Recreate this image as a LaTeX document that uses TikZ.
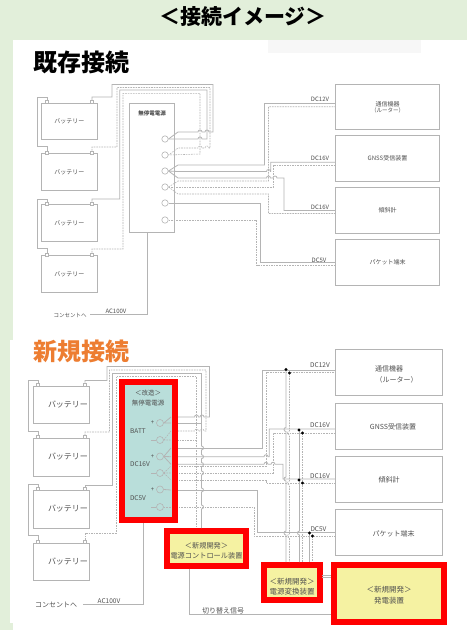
\documentclass[tikz,border=0pt]{standalone}
\usepackage{fontspec}
\setmainfont{Noto Sans CJK JP}
\usepackage{xcolor}
\definecolor{pagegreen}{HTML}{E2EFDA}
\definecolor{wiregray}{HTML}{B4B4B4}
\definecolor{labelgray}{HTML}{505050}
\definecolor{upsteal}{HTML}{B9DEDA}
\definecolor{newyellow}{HTML}{F5F2A2}
\definecolor{titleorange}{HTML}{ED7D31}
\newcommand{\hop}[2]{-- (#1-2,#2) arc (180:360:2)}
\newcommand{\lhop}[2]{-- (#1+2,#2) arc (360:180:2)}
\newcommand{\vhop}[2]{-- (#1,#2-2) arc (270:90:2)}
\newcommand{\rhop}[2]{-- (#1,#2-2) arc (-90:90:2)}

\begin{document}
\begin{tikzpicture}[x=1pt, y=-1pt,
    wire/.style={draw=wiregray, line width=.8pt},
    dwire/.style={draw=wiregray, line width=.55pt, dash pattern=on 1.6pt off 1pt},
    box/.style={draw=wiregray, line width=.8pt, fill=white, inner sep=0pt, text=labelgray},
    term/.style={draw=wiregray, line width=.5pt, fill=white, inner sep=0pt, minimum width=2.6pt, minimum height=3pt},
    port/.style={circle, draw=wiregray, line width=.6pt, inner sep=0pt},
    lab/.style={text=labelgray, inner sep=0pt},
    newbox/.style={draw=red, line width=6pt, fill=newyellow, inner sep=0pt, text=labelgray, align=center},
    dot/.style={circle, fill=black, inner sep=0pt, minimum size=3.4pt},
    title/.style={font=\bfseries\fontsize{24}{24}\selectfont, inner sep=0pt}]
  \useasboundingbox (0,0) rectangle (467,630);
  \fill[pagegreen] (0,0) rectangle (467,630);
  \fill[white] (13,40) rectangle (467,630);
  \fill[white] (10,340) rectangle (14,623);
  \fill[black!3] (268,40) rectangle (421,53);

  \node[title, font=\bfseries\fontsize{21}{21}\selectfont] (head) at (243,17) {＜接続イメージ＞};
  \node[title, anchor=west] (oldhead) at (33,62) {既存接続};
  \node[title, anchor=west, text=titleorange] (newhead) at (33,351) {新規接続};

  % existing connection
  \foreach \n/\y in {1/121.25, 2/172, 3/223, 4/274} {
    \node[box, minimum width=55.5pt, minimum height=36.5pt, font=\fontsize{6}{6}\selectfont] (batt\n) at (69.25,\y) {バッテリー};
    \node[term] (b\n l) at (47,\y-19.7) {};
    \node[term] (b\n r) at (92,\y-19.7) {};
  }
  \node[box, minimum width=45pt, minimum height=129.5pt] (ups) at (152,167.75) {};
  \node[lab, font=\bfseries\fontsize{5.5}{5.5}\selectfont] (upstext) at (152,113) {無停電電源};
  \foreach \n/\y in {1/139, 2/155, 3/171, 4/187, 5/203, 6/220}
    \node[port, minimum size=6.4pt] (up\n) at (165,\y) {};

  \foreach \n/\y/\t in {1/106.75/{通信機器\\[-1pt]{\fontsize{5.5}{5.5}\selectfont （ルーター）}}, 2/158.5/GNSS受信装置, 3/210.5/傾斜計, 4/262.25/パケット端末}
    \node[box, minimum width=104pt, minimum height=45.5pt, align=center, font=\fontsize{6}{7}\selectfont] (dev\n) at (387.5,\y) {\t};

  \draw[wire] (b1l.north) |- (37,97) -- (37,146) -| (b2l.north);
  \draw[wire] (b3l.north) |- (37,199) -- (37,248) -| (b4l.north);
  \draw[wire] (b1r.north) |- (112,97) |- (213,84.5) -- (213,132) \lhop{207}{132} \lhop{200}{132} -- (178,132) -- (up1.east);
  \draw[dwire] (b2r.north) |- (117,147) |- (210,87.5) -- (210,148) \lhop{207}{148} \lhop{200}{148} -- (178,148) -- (up2.east);
  \draw[wire] (b3r.north) |- (119.7,199) |- (207,90) -- (207,139) \lhop{200}{139} -- (up1.east);
  \draw[dwire] (b4r.north) |- (123,249) |- (200,93.3) -- (200,154) -- (up2.east);

  \draw[wire] (up3.east) -- (178,165) -- (264.5,165) |- ([yshift=3.25pt]dev1.west);
  \draw[dwire] (up4.east) -- (178,181) -- (268.5,181) |- (dev1.west);
  \draw[wire] (up3.east) -- (178,171.5) \hop{268.5}{171.5} -- (270.7,171.5) |- ([yshift=-3.8pt]dev2.west);
  \draw[dwire] (up4.east) -- (178,187) -- (273.3,187) |- ([yshift=-6.5pt]dev2.west);
  \draw[wire] (up3.east) -- (178,178) \hop{268.5}{178} \hop{275}{178} -- (284,178) |- (dev3.west);
  \draw[dwire] (up4.east) -- (178,194) -- (268.5,194) |- ([yshift=-3pt]dev3.west);
  \draw[wire] (up5.east) -- (260.5,203) |- (dev4.west);
  \draw[dwire] (up6.east) -- (256.5,220) |- ([yshift=-3.25pt]dev4.west);

  \coordinate (plug) at (90,314);
  \draw[wire] (plug) -| (ups.south -| 147,0);
  \node[lab, font=\fontsize{5.5}{6}\selectfont] (plugtext) at (70,315) {コンセントへ};
  \node[lab, font=\fontsize{6}{6}\selectfont] (actext) at (116,311) {AC100V};
  \node[lab, font=\fontsize{6}{6}\selectfont] (v1) at (320,99) {DC12V};
  \node[lab, font=\fontsize{6}{6}\selectfont] (v2) at (320,158) {DC16V};
  \node[lab, font=\fontsize{6}{6}\selectfont] (v3) at (320,207.5) {DC16V};
  \node[lab, font=\fontsize{6}{6}\selectfont] (v4) at (319,260) {DC5V};

  % new connection
  \foreach \n/\y in {1/404.75, 2/457.5, 3/509.5, 4/562} {
    \node[box, minimum width=56.5pt, minimum height=37.5pt] (nbatt\n) at (61.25,\y) {};
    \node[lab, font=\fontsize{8}{8}\selectfont] (nbtext\n) at (68,\y-0.5) {バッテリー};
    \node[term] (nb\n l) at (38,\y-20.5) {};
    \node[term] (nb\n r) at (85,\y-20.5) {};
  }
  \foreach \n/\y in {1/372.5, 2/426, 3/479.25, 4/532.75}
    \node[box, minimum width=107pt, minimum height=46pt] (ndev\n) at (389,\y) {};
  \node[lab, font=\fontsize{7}{8}\selectfont] (nd1a) at (389,369) {通信機器};
  \node[lab, font=\fontsize{7}{8}\selectfont] (nd1b) at (396.5,379.5) {（ルーター）};
  \node[lab, font=\fontsize{7}{8}\selectfont] (nd2) at (393,427) {GNSS受信装置};
  \node[lab, font=\fontsize{7}{8}\selectfont] (nd3) at (389,480) {傾斜計};
  \node[lab, font=\fontsize{7}{8}\selectfont] (nd4) at (393.5,533.5) {パケット端末};

  \node[newbox, minimum width=79pt, minimum height=35pt] (ctrl) at (206.5,548.5) {};
  \node[newbox, minimum width=55.5pt, minimum height=35pt] (conv) at (292,582.2) {};
  \node[newbox, minimum width=109.5pt, minimum height=56.7pt] (gen) at (389,593.3) {};

  \draw[wire] (nb1l.north) |- (28,380) -- (28,431) -| (nb2l.north);
  \draw[wire] (nb3l.north) |- (28,484) -- (28,535) -| (nb4l.north);
  \draw[wire] (nb1r.north) |- (107,380.5) |- (209.5,366.5) -- (209.5,417) \lhop{202}{417} \lhop{196.5}{417} -- (171,417);
  \draw[dwire] (nb2r.north) |- (109.5,432) |- (206,370) -- (206,431) \lhop{202}{431} \lhop{196.5}{431} -- (171,431);
  \draw[wire] (nb3r.north) |- (112,485) |- (201.5,373) -- (201.5,423) -- (171,423);
  \draw[dwire] (nb4r.north) |- (116,533) |- (196.5,376.5) -- (196.5,440) -- (171,440);

  % bus to the control box
  \draw[wire] (201.5,423) \rhop{201.5}{448} \rhop{201.5}{456.7} \rhop{201.5}{464.5} \rhop{201.5}{473} \rhop{201.5}{490} \rhop{201.5}{507} -- (201.5,528);
  \draw[dwire] (196.5,440) -- (196.5,528);

  \draw[wire] (171,448) -- (262.7,448) |- ([yshift=2.5pt]ndev1.west);
  \draw[dwire] (171,466) -- (266,466) |- (ndev1.west);
  \draw[wire] (171,456.7) \hop{266}{456.7} -- (269.3,456.7) |- ([yshift=-3pt]ndev2.west);
  \draw[dwire] (171,473) -- (273,473) |- ([yshift=-7pt]ndev2.west);
  \draw[wire] (171,464.3) \hop{266}{464.3} \hop{273}{464.3} -- (283,464.3) |- ([yshift=.25pt]ndev3.west);
  \draw[dwire] (171,480) -- (266,480) |- ([yshift=-3.75pt]ndev3.west);
  \draw[wire] (171,490) -- (257.5,490) |- (ndev4.west);
  \draw[dwire] (171,507) -- (254,507) |- ([yshift=-3.25pt]ndev4.west);

  \coordinate (t1) at (286,369.5);
  \coordinate (t2) at (289.5,373);
  \coordinate (t3) at (299.5,429.5);
  \coordinate (t4) at (302.5,433);
  \coordinate (t5) at (309.5,533);
  \coordinate (t6) at (312.5,536);
  \draw[wire] (t1) \vhop{286}{429.5} \vhop{286}{479} \vhop{286}{533} -- (286,562);
  \draw[dwire] (t2) \vhop{289.5}{433} \vhop{289.5}{483} \vhop{289.5}{536} -- (289.5,562);
  \draw[wire] (t3) \vhop{299.5}{533} -- (299.5,562);
  \draw[dwire] (t4) -- (302.5,562);
  \draw[wire] (t5) -- (309.5,562);
  \draw[dwire] (t6) -- (312.5,562);
  \foreach \n/\x/\y in {a/286/369.5, b/289.5/373, c/299/430, d/302.5/433, e/299/480, f/302.5/483, g/309.5/533, h/312.5/536}
    \node[dot] (dot\n) at (\x,\y) {};

  \draw[wire] (ctrl.south -| 189.3,0) |- (gen.west |- 0,614.3);
  \draw[wire] (322,575) -- (331,575);
  \draw[wire] (322,577.5) -- (331,577.5);
  \node[lab, font=\fontsize{7}{8}\selectfont] (swtext) at (223,611) {切り替え信号};

  \node[draw=red, line width=6pt, fill=upsteal, inner sep=0pt, minimum width=52.5pt, minimum height=138pt] (nups) at (148.25,451) {};
  \node[lab, font=\fontsize{6.5}{7}\selectfont] (nu1) at (148,393) {＜改造＞};
  \node[lab, font=\fontsize{6.5}{7}\selectfont] (nu2) at (148,403) {無停電電源};
  \node[lab, font=\fontsize{6.5}{7}\selectfont] (nu3) at (138,431) {BATT};
  \node[lab, font=\fontsize{6.5}{7}\selectfont] (nu4) at (140,464) {DC16V};
  \node[lab, font=\fontsize{6.5}{7}\selectfont] (nu5) at (138,498) {DC5V};
  \foreach \n/\y in {1/423, 2/440, 3/456.5, 4/473, 5/489.5, 6/507}
    \node[port, minimum size=7pt] (np\n) at (160,\y) {};
  \foreach \n/\y in {1/423, 3/456.5, 5/489.5}
    \node[lab, font=\fontsize{6}{6}\selectfont] (plus\n) at (152.5,\y) {+};
  \foreach \n in {2,4,6}
    \draw[wire] (np\n.west) -- ++(-5.5,0);
  \draw[wire] (np1.east) -- (171,417) (np1.east) -- (171,423);
  \draw[wire] (np3.east) -- (171,448) (np3.east) -- (171,456.7) (np3.east) -- (171,464.3);
  \draw[wire] (np5.east) -- (171,490);
  \draw[dwire] (np2.east) -- (171,431) (np2.east) -- (171,440);
  \draw[dwire] (np4.east) -- (171,466) (np4.east) -- (171,473) (np4.east) -- (171,480);
  \draw[dwire] (np6.east) -- (171,507);

  \draw[wire] (83,604) -| (nups.south -| 143,0);
  \node[lab, font=\fontsize{7}{8}\selectfont] (nplug) at (56,604.5) {コンセントへ};
  \node[lab, font=\fontsize{6.5}{7}\selectfont] (nac) at (109,601.5) {AC100V};
  \node[lab, font=\fontsize{6.5}{7}\selectfont] (w1) at (320,365.5) {DC12V};
  \node[lab, font=\fontsize{6.5}{7}\selectfont] (w2) at (320,425.5) {DC16V};
  \node[lab, font=\fontsize{6.5}{7}\selectfont] (w3) at (320,476.5) {DC16V};
  \node[lab, font=\fontsize{6.5}{7}\selectfont] (w4) at (318.5,529.5) {DC5V};

  \node[lab, font=\fontsize{7.2}{10}\selectfont, align=center] (ctrltext) at (206.5,551) {＜新規開発＞\\電源コントロール装置};
  \node[lab, font=\fontsize{7.5}{10}\selectfont, align=center] (convtext) at (292,587) {＜新規開発＞\\電源変換装置};
  \node[lab, font=\fontsize{7.5}{11}\selectfont, align=center] (gentext) at (389,595.5) {＜新規開発＞\\発電装置};
\end{tikzpicture}
\end{document}
